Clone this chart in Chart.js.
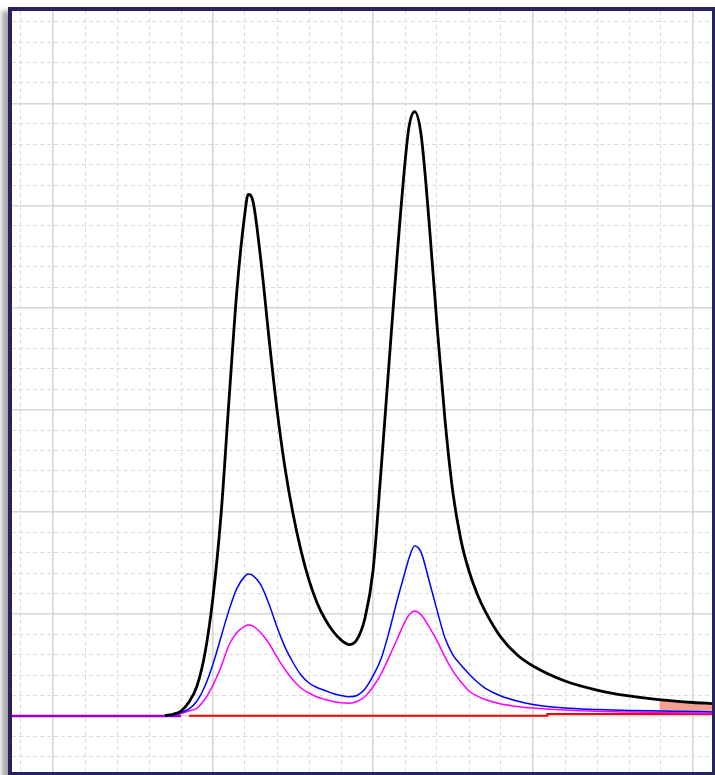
<!DOCTYPE html>
<html>
<head>
<meta charset="utf-8">
<script src="https://cdn.jsdelivr.net/npm/chart.js@4.4.1/dist/chart.umd.min.js"></script>
<style>
html, body { margin: 0; padding: 0; background: #fff; overflow: hidden; }
#frame {
    position: absolute; left: 8px; top: 7px;
    width: 700px; height: 761px;
    border: 4px solid #27235e;
    box-shadow: -6px 4px 5px rgba(0, 0, 0, 0.35);
    background: #fff;
}
#frame canvas { display: block; }
</style>
</head>
<body>
<div id="frame"><canvas id="chrom" width="700" height="761"></canvas></div>
<script>
// retention time (min) shared by the three detector traces
var times = [0.7, 0.75, 0.8, 0.85, 0.9, 0.95, 1.0, 1.05, 1.1, 1.15, 1.2, 1.22, 1.25,
    1.3, 1.35, 1.4, 1.45, 1.5, 1.55, 1.6, 1.65, 1.7, 1.75, 1.8, 1.85, 1.9, 1.95,
    2.0, 2.05, 2.1, 2.15, 2.2, 2.225, 2.26, 2.3, 2.35, 2.4, 2.45, 2.5, 2.55, 2.6, 2.65,
    2.7, 2.8, 2.9, 3.0, 3.2, 3.4, 3.6, 3.8, 4.0, 4.12];

var totalSignal = [0.05, 0.17, 0.49, 1.37, 2.94, 6.17, 11.65, 19.67, 30.93, 41.79, 49.33, 51.09, 50.4,
    44.5, 37.0, 30.0, 24.3, 19.8, 16.2, 13.3, 11.1, 9.5, 8.3, 7.45, 7.0, 7.5, 9.6,
    14.2, 24.0, 34.5, 44.9, 54.2, 57.7, 59.2, 57.0, 48.5, 38.3, 29.0, 21.8, 17.2, 14.2, 12.0,
    10.3, 7.7, 6.0, 4.9, 3.43, 2.54, 1.96, 1.57, 1.32, 1.22];

var channelA = [0, 0.05, 0.34, 0.69, 1.47, 2.94, 5.09, 7.73, 10.37, 12.53, 13.7, 13.9, 13.75,
    12.82, 10.96, 8.71, 6.75, 5.24, 4.01, 3.23, 2.79, 2.5, 2.2, 2.01, 1.89, 2.01, 2.64,
    3.92, 5.58, 8.22, 11.26, 14.09, 15.46, 16.64, 16.05, 13.3, 10.37, 7.63, 5.97, 4.99, 4.11, 3.35,
    2.74, 1.96, 1.47, 1.13, 0.78, 0.64, 0.54, 0.49, 0.44, 0.39];

var channelB = [0, 0.02, 0.24, 0.49, 0.78, 1.66, 3.03, 4.8, 6.95, 8.17, 8.81, 8.91, 8.81,
    8.12, 7.1, 5.77, 4.55, 3.52, 2.74, 2.25, 1.86, 1.61, 1.42, 1.29, 1.25, 1.42, 1.91,
    2.84, 4.11, 5.77, 7.49, 9.25, 9.89, 10.28, 9.93, 8.76, 7.39, 5.77, 4.4, 3.33, 2.45, 1.97,
    1.61, 1.17, 0.93, 0.78, 0.59, 0.46, 0.39, 0.34, 0.29, 0.24];

// integration baseline, with the small step near 3.1 min
var baselineTimes = [0.85, 3.09, 3.09, 4.12];
var baselineLevel = [0.03, 0.03, 0.2, 0.2];

// flat signal before the first peak
var leadTimes = [-0.27, 0.8];
var leadLevel = [0, 0];

// shaded tail slice
var tailTimes = [3.79, 3.8, 4.0, 4.12];
var tailSignal = [1.58, 1.57, 1.32, 1.22];

var xMin = -0.25625, xMax = 4.11875;
var yMin = -5.485, yMax = 69.05;

function pts(xs, ys) {
    return xs.map(function (x, i) { return { x: x, y: ys[i] }; });
}

function onStep(v, step) {
    return Math.abs(v / step - Math.round(v / step)) < 1e-6;
}

function minorAxis(lo, hi, step, major) {
    return {
        type: 'linear', min: lo, max: hi,
        ticks: { display: false, stepSize: step, includeBounds: false, autoSkip: false },
        grid: {
            drawTicks: false, lineWidth: 1,
            color: function (c) {
                if (c.tick && onStep(c.tick.value, major)) return 'rgba(0,0,0,0)';
                return '#dcdcdc';
            }
        },
        border: { display: false, dash: [4, 3] }
    };
}

function majorAxis(lo, hi, step, pos) {
    return {
        type: 'linear', position: pos, min: lo, max: hi,
        ticks: { display: false, stepSize: step, includeBounds: false, autoSkip: false },
        grid: { drawTicks: false, lineWidth: 1.6, color: '#d6d6d6' },
        border: { display: false }
    };
}

var line = function (label, xs, ys, color, width) {
    return {
        label: label,
        data: pts(xs, ys),
        borderColor: color,
        borderWidth: width,
        pointRadius: 0,
        cubicInterpolationMode: 'monotone',
        fill: false
    };
};

var tail = line('Tail', tailTimes, tailSignal, 'rgba(0,0,0,0)', 0);
tail.backgroundColor = '#f4a28e';
tail.fill = 1;

var ctx = document.getElementById('chrom');
var chrom = new Chart(ctx, {
    type: 'line',
    data: {
        datasets: [
            line('Total', times, totalSignal, '#000000', 2.8),
            line('Channel A', times, channelA, '#0000ff', 1.5),
            line('Channel B', times, channelB, '#ff00ff', 1.5),
            line('Baseline', baselineTimes, baselineLevel, '#ff0000', 2),
            line('Lead', leadTimes, leadLevel, '#9900cc', 2.5),
            tail
        ]
    },
    options: {
        responsive: false,
        animation: false,
        devicePixelRatio: 1,
        layout: { padding: 0 },
        plugins: { legend: { display: false }, tooltip: { enabled: false } },
        scales: {
            x: minorAxis(xMin, xMax, 0.2, 1),
            xMajor: majorAxis(xMin, xMax, 1, 'bottom'),
            y: minorAxis(yMin, yMax, 2, 10),
            yMajor: majorAxis(yMin, yMax, 10, 'left')
        }
    }
});
</script>
</body>
</html>
